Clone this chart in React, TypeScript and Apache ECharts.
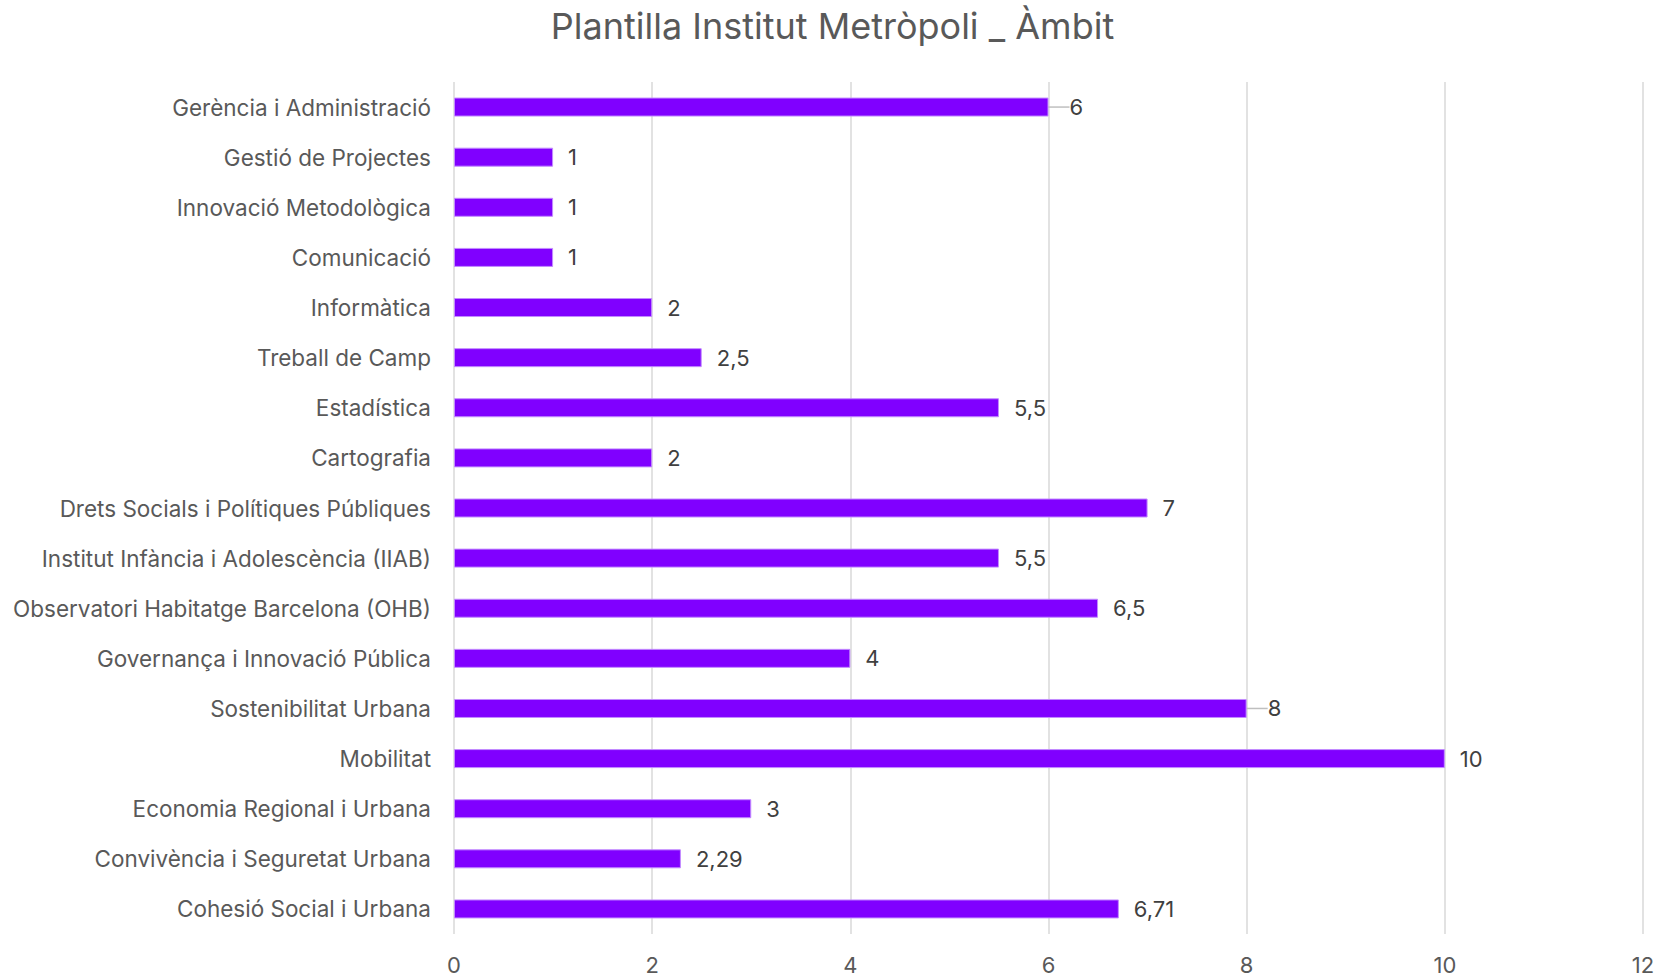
import React, { useEffect, useRef } from "react";
import * as echarts from "echarts";

const titleText = "Plantilla Institut Metròpoli _ Àmbit";

const categories = [
  "Gerència i Administració",
  "Gestió de Projectes",
  "Innovació Metodològica",
  "Comunicació",
  "Informàtica",
  "Treball de Camp",
  "Estadística",
  "Cartografia",
  "Drets Socials i Polítiques Públiques",
  "Institut Infància i Adolescència (IIAB)",
  "Observatori Habitatge Barcelona (OHB)",
  "Governança i Innovació Pública",
  "Sostenibilitat Urbana",
  "Mobilitat",
  "Economia Regional i Urbana",
  "Convivència i Seguretat Urbana",
  "Cohesió Social i Urbana",
];

const values = [6, 1, 1, 1, 2, 2.5, 5.5, 2, 7, 5.5, 6.5, 4, 8, 10, 3, 2.29, 6.71];

const xTicks = [0, 2, 4, 6, 8, 10, 12];

// labels that Excel drew with a leader line
const leaderIdx = [0, 12];

export default function App() {
  const ref = useRef<HTMLDivElement>(null);
  useEffect(() => {
    const chart = echarts.init(ref.current!, null, { renderer: "svg" });
    const font = "Inter, 'Noto Sans', sans-serif";
    chart.setOption({
      animation: false,
      backgroundColor: "#ffffff",
      title: {
        text: titleText,
        left: "center",
        top: 3,
        textStyle: {
          fontFamily: font,
          fontSize: 36,
          fontWeight: "normal",
          color: "#595959",
        },
      },
      grid: {
        left: 454,
        right: 22,
        top: 82,
        bottom: 43,
        containLabel: false,
        outerBoundsMode: "none",
      },
      xAxis: {
        type: "value",
        min: xTicks[0],
        max: xTicks[xTicks.length - 1],
        interval: 2,
        axisLine: { show: false },
        axisTick: { show: false },
        splitLine: { lineStyle: { color: "#d9d9d9", width: 1.5 } },
        axisLabel: {
          margin: 20,
          fontFamily: font,
          fontSize: 22,
          color: "#595959",
        },
      },
      yAxis: {
        type: "category",
        inverse: true,
        data: categories,
        axisLine: { show: false },
        axisTick: { show: false },
        axisLabel: {
          margin: 23,
          fontFamily: font,
          fontSize: 22.5,
          color: "#595959",
        },
      },
      series: [
        {
          type: "bar",
          data: values.map((v, i) => ({
            value: v,
            labelLine: leaderIdx.includes(i)
              ? { show: true, lineStyle: { color: "#bfbfbf", width: 1.5 } }
              : { show: false },
          })),
          barWidth: 19,
          itemStyle: { color: "#8000ff", borderColor: "#c38cff", borderWidth: 1 },
          label: {
            show: true,
            position: "right",
            distance: 15,
            fontFamily: font,
            fontSize: 22,
            color: "#404040",
            formatter: (p: any) => String(p.value).replace(".", ","),
          },
          labelLayout: (p: any) =>
            leaderIdx.includes(p.dataIndex) ? { dx: 6 } : {},
        },
      ],
    });
    return () => chart.dispose();
  }, []);
  return (
    <div
      ref={ref}
      style={{ position: "fixed", left: 0, top: 0, width: 1665, height: 977 }}
    />
  );
}
